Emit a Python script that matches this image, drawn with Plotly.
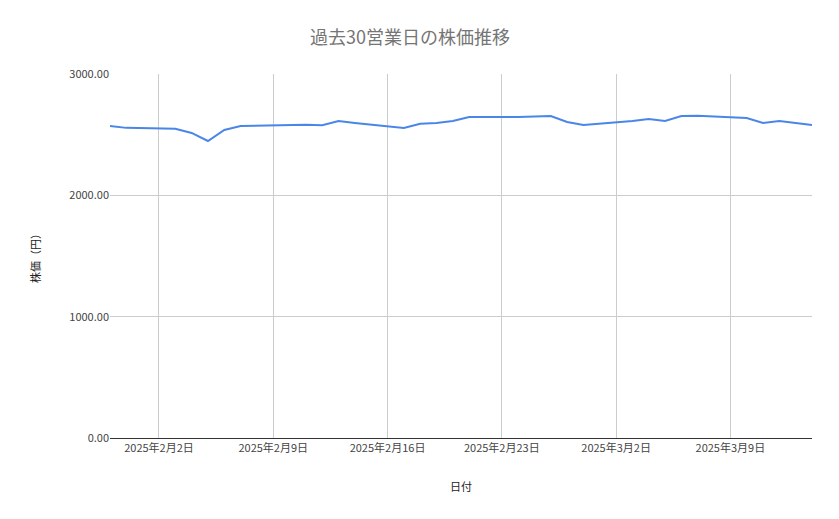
import plotly.graph_objects as go

dates = ["2025-01-30","2025-01-31","2025-02-03","2025-02-04","2025-02-05","2025-02-06","2025-02-07",
         "2025-02-10","2025-02-11","2025-02-12","2025-02-13","2025-02-14",
         "2025-02-17","2025-02-18","2025-02-19","2025-02-20","2025-02-21",
         "2025-02-24","2025-02-25","2025-02-26","2025-02-27","2025-02-28",
         "2025-03-03","2025-03-04","2025-03-05","2025-03-06","2025-03-07",
         "2025-03-10","2025-03-11","2025-03-12","2025-03-13","2025-03-14"]
prices = [2572,2556,2548,2514,2448,2539,2572,
          2580,2582,2578,2613,2597,
          2556,2590,2597,2613,2646,
          2646,2647,2654,2605,2580,
          2613,2630,2613,2654,2656,
          2638,2597,2613,2597,2580]

W, H = 839, 519
L, R, T, B = 102, 35, 66, 89
pw, ph = W - L - R, H - T - B

fig = go.Figure(go.Scatter(x=dates, y=prices, mode="lines",
                           line=dict(color="#4a86e8", width=2)))
fig.update_layout(
    width=W, height=H, plot_bgcolor="white", paper_bgcolor="white",
    margin=dict(l=L, r=R, t=T, b=B),
    font=dict(family="Noto Sans CJK JP, Roboto", size=11, color="#444"),
    title=dict(text="過去30営業日の株価推移", x=(410 - 8 - L) / pw, xref="paper", xanchor="center",
               yref="container", y=1 - (30 / H), yanchor="middle",
               font=dict(size=18, color="#757575")),
    showlegend=False,
    annotations=[
        dict(text="日付", xref="paper", yref="paper", x=(461 - 8 - L) / pw, y=-(486 - 8 - T - ph) / ph,
             showarrow=False, font=dict(size=11, color="#222"), yanchor="middle"),
        dict(text="株価（円）", xref="paper", yref="paper", x=(35 - 8 - L) / pw, y=0.5,
             showarrow=False, textangle=-90, font=dict(size=11, color="#222"), xanchor="center"),
    ],
)
fig.update_xaxes(range=["2025-01-30","2025-03-14"], tick0="2025-02-02", dtick=7*86400000,
                 tickformat="%Y年%-m月%-d日", showgrid=True, gridcolor="#cccccc",
                 showline=True, linecolor="#333", ticks="", tickfont=dict(color="#444"))
fig.update_yaxes(range=[0, 3000], dtick=1000, tickformat=".2f",
                 showgrid=True, gridcolor="#cccccc", zeroline=False, ticks="",
                 tickfont=dict(color="#444"))
fig.write_html("out.html")
